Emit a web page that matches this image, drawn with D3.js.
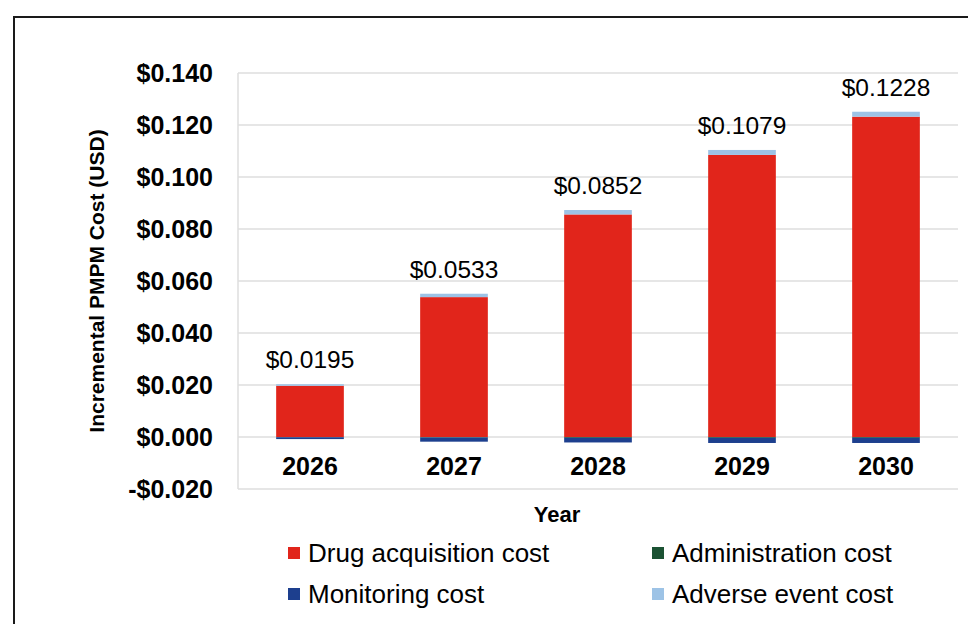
<!DOCTYPE html>
<html>
<head>
<meta charset="utf-8">
<script src="https://cdn.jsdelivr.net/npm/d3@7"></script>
<style>
  body { margin: 0; background: #fff; }
  svg text { font-family: "Liberation Sans", Arial, sans-serif; }
</style>
</head>
<body>
<svg id="chart" width="968" height="624"></svg>
<script>
// chart values
const years = ["2026", "2027", "2028", "2029", "2030"];
const drugCost = [0.0197, 0.0538, 0.0856, 0.1085, 0.1232];
const adminCost = [-0.0001, -0.0002, -0.0003, -0.0003, -0.0003];
const monitoringCost = [-0.0007, -0.0016, -0.0018, -0.0020, -0.0020];
const adverseCost = [0.0006, 0.0013, 0.0017, 0.0019, 0.0019];
const totalLabels = ["$0.0195", "$0.0533", "$0.0852", "$0.1079", "$0.1228"];
const yTicks = [-0.02, 0, 0.02, 0.04, 0.06, 0.08, 0.1, 0.12, 0.14];

const seriesNames = ["Drug acquisition cost", "Administration cost", "Monitoring cost", "Adverse event cost"];
const seriesKeys = ["drug", "admin", "monitoring", "adverse"];
const colors = ["#e1251b", "#1b5233", "#1d3f8e", "#9dc3e6"];

var rows = years.map(function (y, i) {
    return { year: y, drug: drugCost[i], admin: adminCost[i], monitoring: monitoringCost[i], adverse: adverseCost[i] };
});

var svg = d3.select("#chart");

// outer frame
svg.append("rect")
    .attr("x", 14).attr("y", 17)
    .attr("width", 990).attr("height", 640)
    .attr("fill", "none").attr("stroke", "#1a1a1a").attr("stroke-width", 2);

var margin = {left: 238, right: 10, top: 73, bottom: 135};
var width = 968 - margin.left - margin.right,
    height = 624 - margin.top - margin.bottom;

var x = d3.scaleBand().domain(years).range([margin.left, margin.left + width]).paddingInner(0.53).paddingOuter(0.265);
var y = d3.scaleLinear().domain([-0.02, 0.14]).range([margin.top + height, margin.top]);

// gridlines
svg.append("g")
    .selectAll("line")
    .data(yTicks)
    .enter().append("line")
    .attr("x1", margin.left).attr("x2", margin.left + width)
    .attr("y1", d => y(d)).attr("y2", d => y(d))
    .attr("stroke", "#dedede").attr("stroke-width", 1.5);

svg.append("line")
    .attr("x1", margin.left).attr("x2", margin.left)
    .attr("y1", y(0.14)).attr("y2", y(-0.02))
    .attr("stroke", "#dedede").attr("stroke-width", 1.5);

// y axis labels
var yAxis = d3.axisLeft(y).tickValues(yTicks).tickSize(0).tickPadding(25)
    .tickFormat(d => (d < 0 ? "-$" : "$") + Math.abs(d).toFixed(3));
var yg = svg.append("g").attr("transform", "translate(" + margin.left + ",0)").call(yAxis);
yg.select(".domain").remove();
yg.selectAll("text").attr("font-size", 25).attr("font-weight", "bold").attr("fill", "#000")
    .attr("font-family", "Liberation Sans, Arial, sans-serif");

// stacked bars
var stack = d3.stack().keys(seriesKeys).offset(d3.stackOffsetDiverging);
var stacked = stack(rows);

svg.append("g")
    .selectAll("g")
    .data(stacked)
    .enter().append("g")
    .attr("fill", (d, i) => colors[i])
    .selectAll("rect")
    .data(d => d)
    .enter().append("rect")
    .attr("x", d => x(d.data.year))
    .attr("width", x.bandwidth())
    .attr("y", d => y(Math.max(d[0], d[1])))
    .attr("height", d => Math.abs(y(d[0]) - y(d[1])));

// total labels above bars
svg.append("g")
    .selectAll("text")
    .data(rows)
    .enter().append("text")
    .attr("x", d => x(d.year) + x.bandwidth() / 2)
    .attr("y", d => y(d.drug + d.adverse) - 16)
    .attr("text-anchor", "middle")
    .attr("font-size", 24.5)
    .attr("fill", "#000")
    .text((d, i) => totalLabels[i]);

// year labels
svg.append("g")
    .selectAll("text")
    .data(years)
    .enter().append("text")
    .attr("x", d => x(d) + x.bandwidth() / 2)
    .attr("y", 475)
    .attr("text-anchor", "middle")
    .attr("font-size", 25)
    .attr("font-weight", "bold")
    .text(d => d);

// axis titles
svg.append("text")
    .attr("x", 557).attr("y", 522)
    .attr("text-anchor", "middle")
    .attr("font-size", 22).attr("font-weight", "bold")
    .text("Year");

svg.append("text")
    .attr("transform", "translate(104,281) rotate(-90)")
    .attr("text-anchor", "middle")
    .attr("font-size", 21).attr("font-weight", "bold")
    .text("Incremental PMPM Cost (USD)");

// legend
var legendPos = [[288, 553], [652, 553], [288, 594], [652, 594]];
var legendOrder = [0, 1, 2, 3];
var legend = svg.append("g")
    .selectAll("g")
    .data(legendOrder)
    .enter().append("g")
    .attr("transform", d => "translate(" + legendPos[d][0] + "," + legendPos[d][1] + ")");

legend.append("rect")
    .attr("x", 0).attr("y", -6)
    .attr("width", 12).attr("height", 12)
    .attr("fill", d => colors[d]);

legend.append("text")
    .attr("x", 20).attr("y", 9)
    .attr("font-size", 26)
    .attr("fill", "#000")
    .text(d => seriesNames[d]);
</script>
</body>
</html>
